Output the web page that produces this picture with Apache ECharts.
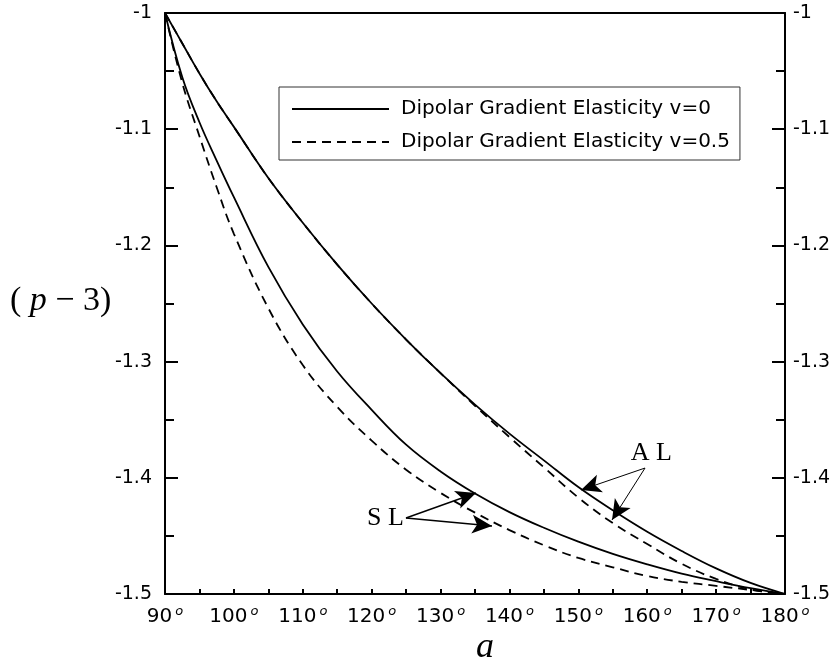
<!DOCTYPE html>
<html>
<head>
<meta charset="utf-8">
<script src="https://cdn.jsdelivr.net/npm/echarts@6/dist/echarts.min.js"></script>
<style>
html,body{margin:0;padding:0;background:#fff;}
#c{width:834px;height:663px;}
</style>
</head>
<body>
<div id="c"></div>
<script>
// angle a (degrees)
const angles = [90, 92.5, 95, 97.5, 100, 105, 110, 115, 120, 125, 130, 135, 140, 145, 150, 155, 160, 165, 170, 175, 180];
// AL curves
const alV0  = [-1, -1.026, -1.052, -1.076, -1.098, -1.142, -1.1805, -1.2165, -1.250, -1.281, -1.310, -1.337, -1.362, -1.385, -1.408, -1.428, -1.4465, -1.463, -1.478, -1.4905, -1.5];
const alV05 = [-1, -1.026, -1.052, -1.076, -1.098, -1.142, -1.1805, -1.2165, -1.250, -1.281, -1.310, -1.338, -1.365, -1.391, -1.417, -1.439, -1.457, -1.474, -1.487, -1.496, -1.5];
// SL curves
const slV0  = [-1, -1.055, -1.094, -1.127, -1.1585, -1.2185, -1.268, -1.3085, -1.3415, -1.3715, -1.3945, -1.4135, -1.4295, -1.443, -1.455, -1.4655, -1.4745, -1.4825, -1.489, -1.495, -1.5];
const slV05 = [-1, -1.060, -1.106, -1.150, -1.190, -1.254, -1.303, -1.339, -1.368, -1.393, -1.413, -1.430, -1.445, -1.458, -1.469, -1.477, -1.4845, -1.4895, -1.493, -1.4965, -1.5];
const xTicks = [90, 100, 110, 120, 130, 140, 150, 160, 170, 180];
const yTicks = [-1, -1.1, -1.2, -1.3, -1.4, -1.5];
const names = ['Dipolar Gradient Elasticity v=0', 'Dipolar Gradient Elasticity v=0.5'];
// annotation arrows [from, to] in data units
const alArrows = [[[159.68, -1.3916], [150.39, -1.4105]], [[159.68, -1.3916], [154.89, -1.4363]]];
const slArrows = [[[124.98, -1.4346], [135.14, -1.4131]], [[124.98, -1.4346], [137.47, -1.4415]]];
const alLabelAt = [160.6, -1.3787];
const slLabelAt = [122.0, -1.4346];

const pair = (ys) => angles.map((a, i) => [a, ys[i]]);
const SANS = 'DejaVu Sans';
const SERIF = 'Liberation Serif';

function arrowLines(list, width) {
  return {
    silent: true,
    symbol: ['none', 'arrow'],
    symbolSize: [14, 20],
    label: {show: false},
    lineStyle: {color: '#000', width: width, type: 'solid'},
    emphasis: {disabled: true},
    data: list.map(p => [{coord: p[0]}, {coord: p[1]}])
  };
}
function textPoint(pos, txt) {
  return {
    silent: true,
    symbol: 'circle',
    symbolSize: 1,
    itemStyle: {color: 'rgba(0,0,0,0)'},
    label: {show: true, position: 'inside', formatter: txt, color: '#000',
            fontFamily: SERIF, fontSize: 26},
    data: [{coord: pos}]
  };
}

const chart = echarts.init(document.getElementById('c'), null, {renderer: 'canvas'});
const axisLabelX = {
  show: true, margin: 11, color: '#000',
  formatter: v => xTicks.includes(v) ? '{n|' + v + '}{s|o}' : '',
  rich: {
    n: {fontFamily: SANS, fontSize: 20, color: '#000', lineHeight: 24},
    s: {fontFamily: SANS, fontSize: 13, fontStyle: 'italic', color: '#000', verticalAlign: 'top', lineHeight: 12, padding: [0, 0, 0, 3]}
  }
};
const yLabel = {show: true, color: '#000', fontFamily: SANS, fontSize: 19, margin: 13,
  formatter: v => String(Math.round(v * 10) / 10)};

chart.setOption({
  animation: false,
  backgroundColor: '#fff',
  grid: {left: 165, right: 49, top: 13, bottom: 69, containLabel: false},
  legend: {
    show: true, orient: 'vertical', left: 279, top: 87,
    padding: [12, 10, 8, 12],
    itemWidth: 97, itemHeight: 20, itemGap: 13,
    borderColor: '#333', borderWidth: 1,
    backgroundColor: '#fff',
    selectedMode: false,
    itemStyle: {opacity: 0},
    textStyle: {fontFamily: SANS, fontSize: 20, color: '#000', padding: [0, 0, 0, 7]},
    data: [names[0], names[1]]
  },
  xAxis: [{
    type: 'value', min: 90, max: 180, interval: 5, position: 'bottom',
    axisLine: {show: true, onZero: false, lineStyle: {color: '#000', width: 2}},
    axisTick: {show: true, inside: true, length: 5, lineStyle: {color: '#000', width: 2}},
    minorTick: {show: false},
    splitLine: {show: false},
    axisLabel: axisLabelX
  }, {
    type: 'value', min: 90, max: 180, interval: 10, position: 'top',
    axisLine: {show: true, onZero: false, lineStyle: {color: '#000', width: 2}},
    axisTick: {show: false}, axisLabel: {show: false}, splitLine: {show: false}
  }],
  yAxis: [{
    type: 'value', min: -1.5, max: -1, interval: 0.1, position: 'left',
    axisLine: {show: true, onZero: false, lineStyle: {color: '#000', width: 2}},
    axisTick: {show: true, inside: true, length: 13, lineStyle: {color: '#000', width: 2}},
    minorTick: {show: true, splitNumber: 2, length: 9, lineStyle: {color: '#000', width: 2}},
    splitLine: {show: false},
    axisLabel: yLabel
  }, {
    type: 'value', min: -1.5, max: -1, interval: 0.1, position: 'right',
    axisLine: {show: true, onZero: false, lineStyle: {color: '#000', width: 2}},
    axisTick: {show: true, inside: true, length: 13, lineStyle: {color: '#000', width: 2}},
    minorTick: {show: true, splitNumber: 2, length: 9, lineStyle: {color: '#000', width: 2}},
    splitLine: {show: false},
    axisLabel: Object.assign({}, yLabel, {margin: 8})
  }],
  series: [
    {name: names[0], type: 'line', data: pair(alV0), showSymbol: false, symbol: 'none',
     smooth: 0.4, lineStyle: {color: '#000', width: 1.8, type: 'solid'},
     itemStyle: {color: '#000'}, z: 3,
     markLine: arrowLines(alArrows, 1), markPoint: textPoint(alLabelAt, 'A L')},
    {name: names[1], type: 'line', data: pair(alV05), showSymbol: false, symbol: 'none',
     smooth: 0.4, lineStyle: {color: '#000', width: 1.8, type: [9, 6]},
     itemStyle: {color: '#000'}, z: 2},
    {name: names[0], type: 'line', data: pair(slV0), showSymbol: false, symbol: 'none',
     smooth: 0.4, lineStyle: {color: '#000', width: 1.8, type: 'solid'},
     itemStyle: {color: '#000'}, z: 3,
     markLine: arrowLines(slArrows, 1.4), markPoint: textPoint(slLabelAt, 'S L')},
    {name: names[1], type: 'line', data: pair(slV05), showSymbol: false, symbol: 'none',
     smooth: 0.4, lineStyle: {color: '#000', width: 1.8, type: [9, 6]},
     itemStyle: {color: '#000'}, z: 2}
  ],
  graphic: [
    {type: 'text', left: 476, top: 630, style: {text: 'a', fontFamily: SERIF, fontSize: 36, fontStyle: 'italic', fill: '#000'}},
    {type: 'text', left: 10, top: 284, style: {
      text: '{t|( }{i|p}{t| − 3)}',
      rich: {
        t: {fontFamily: SERIF, fontSize: 34, fill: '#000'},
        i: {fontFamily: SERIF, fontSize: 34, fontStyle: 'italic', fill: '#000'}
      }
    }}
  ]
});
</script>
</body>
</html>
